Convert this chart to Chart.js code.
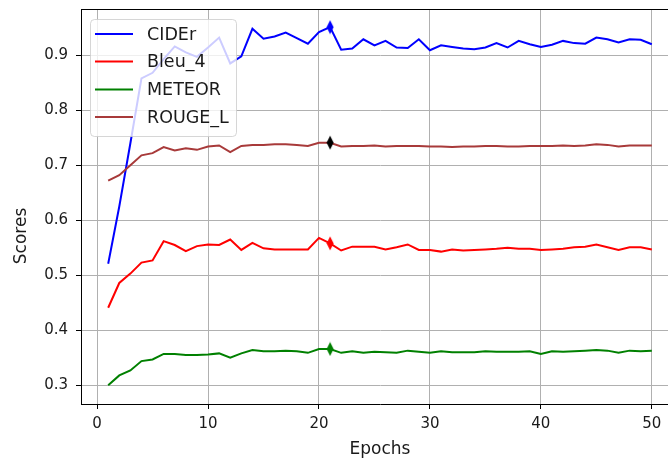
<!DOCTYPE html>
<html><head><meta charset="utf-8">
<script src="https://cdn.jsdelivr.net/npm/chart.js@4.4.1/dist/chart.umd.min.js"></script>
<style>
html,body{margin:0;padding:0;overflow:hidden;background:#fff;width:668px;height:461px}
#wrap{position:absolute;left:0;top:0;width:700px;height:461px}
</style>
</head><body><div id="wrap"><canvas id="c" width="700" height="461"></canvas></div>
<script>
const epochs = [1,2,3,4,5,6,7,8,9,10,11,12,13,14,15,16,17,18,19,20,21,22,23,24,25,26,27,28,29,30,31,32,33,34,35,36,37,38,39,40,41,42,43,44,45,46,47,48,49,50];
const cider = [0.521,0.625,0.740,0.858,0.868,0.893,0.916,0.905,0.897,0.914,0.932,0.885,0.898,0.948,0.930,0.934,0.941,0.931,0.921,0.942,0.951,0.910,0.912,0.929,0.918,0.926,0.914,0.913,0.929,0.909,0.918,0.915,0.912,0.911,0.914,0.922,0.914,0.926,0.920,0.915,0.919,0.926,0.922,0.921,0.932,0.929,0.923,0.929,0.928,0.920];
const bleu4 = [0.441,0.486,0.503,0.523,0.527,0.562,0.555,0.544,0.553,0.556,0.555,0.565,0.546,0.559,0.549,0.547,0.547,0.547,0.547,0.568,0.558,0.545,0.552,0.552,0.552,0.547,0.551,0.556,0.546,0.546,0.543,0.547,0.545,0.546,0.547,0.548,0.550,0.548,0.548,0.546,0.547,0.548,0.551,0.552,0.556,0.551,0.546,0.551,0.551,0.547];
const meteor = [0.300,0.318,0.327,0.344,0.347,0.357,0.357,0.355,0.355,0.356,0.358,0.350,0.358,0.364,0.362,0.362,0.363,0.362,0.359,0.366,0.366,0.359,0.362,0.359,0.361,0.360,0.359,0.363,0.361,0.359,0.362,0.360,0.360,0.360,0.362,0.361,0.361,0.361,0.362,0.357,0.362,0.361,0.362,0.363,0.364,0.363,0.359,0.363,0.362,0.363];
const rougeL = [0.672,0.682,0.700,0.718,0.722,0.733,0.727,0.731,0.728,0.734,0.736,0.724,0.735,0.737,0.737,0.738,0.738,0.737,0.735,0.741,0.741,0.734,0.735,0.735,0.736,0.734,0.735,0.735,0.735,0.734,0.734,0.733,0.734,0.734,0.735,0.735,0.734,0.734,0.735,0.735,0.735,0.736,0.735,0.736,0.738,0.737,0.734,0.736,0.736,0.736];
const seriesNames = ['CIDEr','Bleu_4','METEOR','ROUGE_L'];
const seriesColors = ['#0000ff','#ff0000','#008000','#a83a3a'];
const markerColors = ['#0000ff','#ff0000','#008000','#000000'];
const xTicks = [0,10,20,30,40,50];
const yTicks = [0.3,0.4,0.5,0.6,0.7,0.8,0.9];
const bestEpoch = 21;
const xTitle = 'Epochs';
const yTitle = 'Scores';

const FONT = '"DejaVu Sans", "Liberation Sans", sans-serif';

function thinDiamond(color){
  const c = document.createElement('canvas');
  c.width = 8; c.height = 15;
  const g = c.getContext('2d');
  g.fillStyle = color;
  g.beginPath();
  g.moveTo(4,0.5); g.lineTo(7.5,7.5); g.lineTo(4,14.5); g.lineTo(0.5,7.5); g.closePath();
  g.fill();
  return c;
}

const allSeries = [cider, bleu4, meteor, rougeL];
const datasets = allSeries.map((arr, k) => ({
  label: seriesNames[k],
  data: epochs.map((e, i) => ({x: e, y: arr[i]})),
  borderColor: seriesColors[k],
  backgroundColor: seriesColors[k],
  borderWidth: 2,
  tension: 0,
  fill: false,
  pointStyle: thinDiamond(markerColors[k]),
  pointRadius: ctx => epochs[ctx.dataIndex] === bestEpoch ? 6 : 0,
  pointHoverRadius: 0,
  order: 4 - k
}));

const framePlugin = {
  id: 'frame',
  beforeDatasetsDraw(chart){
    const {ctx, chartArea: a} = chart;
    ctx.save();
    ctx.strokeStyle = '#000';
    ctx.lineWidth = 1;
    ctx.beginPath();
    ctx.moveTo(a.left, Math.round(a.top) + 0.5);
    ctx.lineTo(a.right, Math.round(a.top) + 0.5);
    ctx.lineTo(a.right, a.bottom);
    ctx.stroke();
    ctx.restore();
  },
  afterDraw(chart){
    const ctx = chart.ctx;
    ctx.save();
    ctx.translate(22, 236);
    ctx.rotate(-Math.PI / 2);
    ctx.fillStyle = '#1a1a1a';
    ctx.font = '17px ' + FONT;
    ctx.textAlign = 'center';
    ctx.textBaseline = 'middle';
    ctx.fillText(yTitle, 0, 0);
    ctx.restore();
  }
};

const legendPlugin = {
  id: 'mplLegend',
  afterDatasetsDraw(chart){
    const ctx = chart.ctx;
    const x = 90.5, y = 19.5, w = 146, h = 117, r = 4;
    ctx.save();
    ctx.beginPath();
    ctx.moveTo(x + r, y);
    ctx.lineTo(x + w - r, y); ctx.quadraticCurveTo(x + w, y, x + w, y + r);
    ctx.lineTo(x + w, y + h - r); ctx.quadraticCurveTo(x + w, y + h, x + w - r, y + h);
    ctx.lineTo(x + r, y + h); ctx.quadraticCurveTo(x, y + h, x, y + h - r);
    ctx.lineTo(x, y + r); ctx.quadraticCurveTo(x, y, x + r, y);
    ctx.closePath();
    ctx.fillStyle = 'rgba(255,255,255,0.8)';
    ctx.fill();
    ctx.strokeStyle = 'rgba(204,204,204,0.8)';
    ctx.lineWidth = 1;
    ctx.stroke();
    const rows = [34, 61.5, 89.5, 117];
    chart.data.datasets.forEach((ds, i) => {
      const ry = rows[i];
      ctx.strokeStyle = ds.borderColor;
      ctx.lineWidth = 2;
      ctx.beginPath();
      ctx.moveTo(95, ry); ctx.lineTo(133, ry);
      ctx.stroke();
      ctx.fillStyle = '#1a1a1a';
      ctx.font = '17.5px ' + FONT;
      ctx.textBaseline = 'middle';
      ctx.textAlign = 'left';
      ctx.fillText(ds.label, 147, ry + 1);
    });
    ctx.restore();
  }
};

new Chart(document.getElementById('c'), {
  type: 'line',
  data: {datasets},
  plugins: [framePlugin, legendPlugin],
  options: {
    responsive: false,
    animation: false,
    devicePixelRatio: 1,
    layout: {padding: {top: 9, right: 21, left: 0, bottom: 0}},
    plugins: {legend: {display: false}, tooltip: {enabled: false}},
    scales: {
      x: {
        type: 'linear',
        min: -1.45, max: 52.45,
        afterBuildTicks: s => { s.ticks = xTicks.map(v => ({value: v})); },
        afterFit: s => { s.height = 57; s.paddingLeft = 0; s.paddingRight = 0; },
        ticks: {color: '#1a1a1a', font: {family: FONT, size: 15}, padding: 6, maxRotation: 0, autoSkip: false, callback: v => String(v)},
        grid: {color: '#b0b0b0', lineWidth: 1, tickLength: 5, tickColor: '#000', drawTicks: true},
        border: {color: '#000', width: 1},
        title: {display: true, text: xTitle, color: '#1a1a1a', font: {family: FONT, size: 17}, padding: {top: 0, bottom: 1}}
      },
      y: {
        type: 'linear',
        min: 0.266, max: 0.984,
        afterBuildTicks: s => { s.ticks = yTicks.map(v => ({value: v})); },
        afterFit: s => { s.width = 81; s.paddingTop = 0; s.paddingBottom = 0; },
        ticks: {color: '#1a1a1a', font: {family: FONT, size: 15}, padding: 8, autoSkip: false, callback: v => Number(v).toFixed(1)},
        grid: {color: '#b0b0b0', lineWidth: 1, tickLength: 5, tickColor: '#000', drawTicks: true},
        border: {color: '#000', width: 1},
        title: {display: false}
      }
    }
  }
});
</script>
</body></html>
